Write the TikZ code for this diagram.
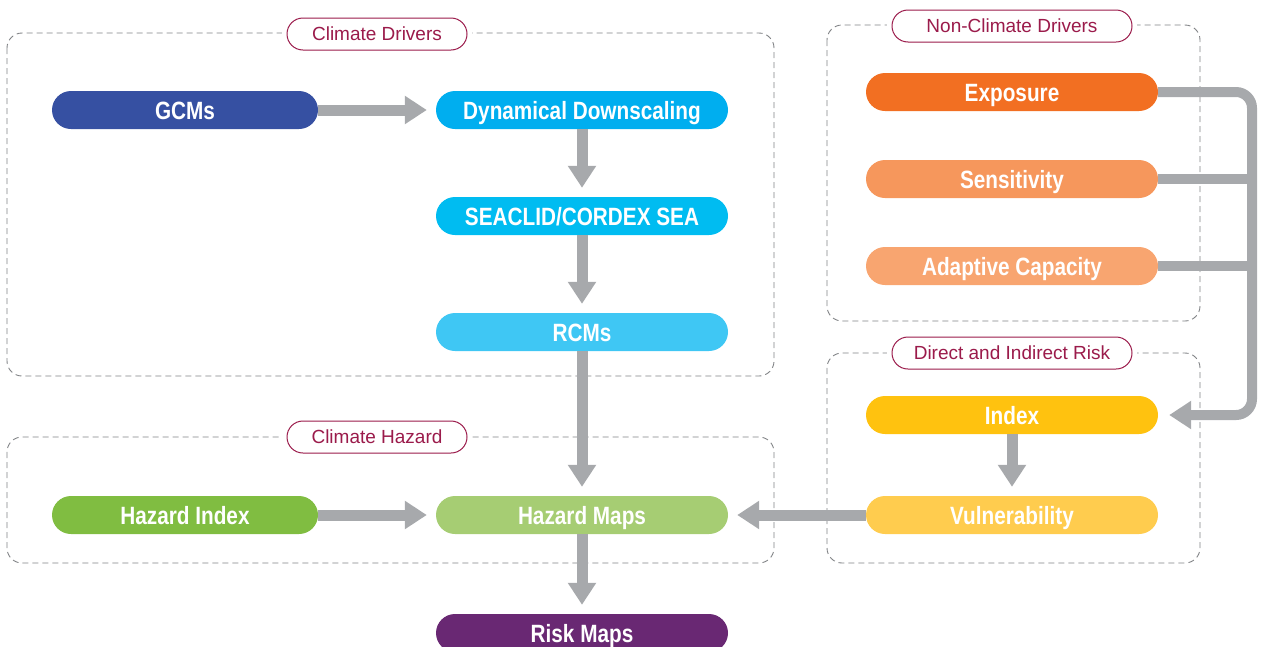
\documentclass[tikz,border=0pt]{standalone}
\usepackage{fontspec}
\setmainfont{Liberation Sans}
\newfontfamily\condfont[FakeStretch=0.83]{Liberation Sans}
\usetikzlibrary{arrows.meta}

\definecolor{gcmblue}{RGB}{54,80,162}
\definecolor{dyncyan}{RGB}{0,174,239}
\definecolor{seacyan}{RGB}{0,188,241}
\definecolor{rcmcyan}{RGB}{63,199,244}
\definecolor{hazgreen}{RGB}{128,189,65}
\definecolor{mapgreen}{RGB}{166,205,115}
\definecolor{riskpurple}{RGB}{105,40,115}
\definecolor{expoorange}{RGB}{242,111,34}
\definecolor{sensorange}{RGB}{246,151,92}
\definecolor{adaporange}{RGB}{248,165,112}
\definecolor{indexyellow}{RGB}{255,194,15}
\definecolor{vulnyellow}{RGB}{255,204,78}
\definecolor{tagred}{RGB}{155,27,75}
\definecolor{flowgray}{RGB}{167,169,172}
\definecolor{boxgray}{RGB}{128,130,133}

\begin{document}
\begin{tikzpicture}
    [
    x=1pt, y=-1pt,
    stage/.style={rounded corners=19pt, minimum height=38pt, inner sep=0pt, text=white,
        text height=18pt, text depth=0pt,
        font=\condfont\bfseries\fontsize{25}{25}\selectfont},
    wide/.style={stage, minimum width=292pt},
    narrow/.style={stage, minimum width=266pt},
    group/.style={draw=boxgray, dash pattern=on 6pt off 4pt, rounded corners=15pt, line width=0.9pt},
    tag/.style={draw=tagred, text=tagred, fill=white, rounded corners=16pt, minimum height=32pt,
        inner sep=0pt, line width=1pt, preaction={draw=white, line width=10pt},
        text height=13.5pt, text depth=0pt,
        font=\fontsize{19}{19}\selectfont},
    flow/.style={draw=flowgray, line width=11pt, -{Triangle[length=22pt,width=27pt]}, shorten >=9pt},
    feed/.style={draw=flowgray, line width=10pt}
    ]
    \useasboundingbox (0,0) rectangle (1261,646);

    % dashed groups
    \draw[group] (7,33) rectangle (774,376);
    \draw[group] (7,437) rectangle (774,563);
    \draw[group] (827,25) rectangle (1200,321);
    \draw[group] (827,353) rectangle (1200,563);

    \node[tag, minimum width=180pt] (tagclim) at (377,34) {Climate Drivers};
    \node[tag, minimum width=180pt] (taghaz) at (377,437) {Climate Hazard};
    \node[tag, minimum width=240pt] (tagnon) at (1012,26) {Non-Climate Drivers};
    \node[tag, minimum width=240pt] (tagrisk) at (1012,353) {Direct and Indirect Risk};

    % climate side
    \node[narrow, fill=gcmblue] (gcms) at (185,110) {GCMs};
    \node[wide, fill=dyncyan] (dyn) at (582,110) {Dynamical Downscaling};
    \node[wide, fill=seacyan] (sea) at (582,216) {SEACLID/CORDEX SEA};
    \node[wide, fill=rcmcyan] (rcms) at (582,332) {RCMs};
    \node[narrow, fill=hazgreen] (hazidx) at (185,515) {Hazard Index};
    \node[wide, fill=mapgreen] (hazmaps) at (582,515) {Hazard Maps};
    \node[wide, fill=riskpurple] (riskmaps) at (582,633) {Risk Maps};

    % non-climate side
    \node[wide, fill=expoorange] (expo) at (1012,92) {Exposure};
    \node[wide, fill=sensorange] (sens) at (1012,179) {Sensitivity};
    \node[wide, fill=adaporange] (adap) at (1012,266) {Adaptive Capacity};
    \node[wide, fill=indexyellow] (index) at (1012,415) {Index};
    \node[wide, fill=vulnyellow] (vuln) at (1012,515) {Vulnerability};

    \draw[flow] (gcms) -- (dyn);
    \draw[flow] (dyn) -- (sea);
    \draw[flow] (sea) -- (rcms);
    \draw[flow] (rcms) -- (hazmaps);
    \draw[flow] (hazidx) -- (hazmaps);
    \draw[flow] (hazmaps) -- (riskmaps);
    \draw[flow] (index) -- (vuln);
    \draw[flow] (vuln) -- (hazmaps);

    % feedback into index
    \coordinate (trunk) at (1252,0);
    \draw[feed] (sens.east) -- (sens.east -| trunk);
    \draw[feed] (adap.east) -- (adap.east -| trunk);
    \draw[feed, rounded corners=16pt, -{Triangle[length=22pt,width=27pt]}, shorten >=11pt]
        (expo.east) -- (expo.east -| trunk) -- (index.east -| trunk) -- (index.east);
\end{tikzpicture}
\end{document}
